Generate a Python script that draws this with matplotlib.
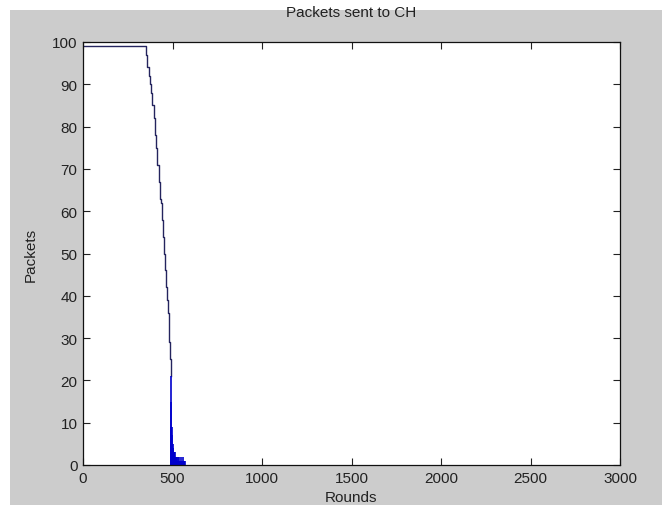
import matplotlib
matplotlib.use("Agg")
import matplotlib.pyplot as plt
from matplotlib.patches import Rectangle

# Per-round packets sent to cluster heads
line_rounds = [0, 345, 352, 360, 366, 372, 380, 388, 395, 402, 408, 415, 422,
               428, 434, 440, 446, 452, 458, 463, 468, 473, 478, 482, 486, 490]
line_packets = [99, 99, 97, 94, 92, 90, 88, 85, 82, 78, 75, 71, 67,
                63, 62, 58, 54, 50, 46, 42, 39, 36, 32, 29, 25, 21]

spike_rounds = [490, 492, 494, 496, 498, 500, 502, 504, 506, 508, 510, 512, 514,
                516, 518, 520, 522, 524, 526, 528, 530, 532, 534, 536, 538, 540,
                542, 544, 546, 548, 550, 552, 554, 556, 558, 560, 562, 566, 570]
spike_packets = [21, 15, 9, 9, 7, 5, 4, 4, 3, 3, 3, 2, 3,
                 2, 2, 2, 1, 2, 1, 2, 1, 1, 1, 1, 2, 1,
                 1, 1, 1, 1, 2, 1, 1, 1, 2, 1, 1, 1, 1]

x_ticks = [0, 500, 1000, 1500, 2000, 2500, 3000]
y_ticks = [0, 10, 20, 30, 40, 50, 60, 70, 80, 90, 100]

plt.rcParams['font.family'] = ['Liberation Sans', 'DejaVu Sans']

fig = plt.figure(figsize=(6.62, 5.06), dpi=100, facecolor='white')
fig.patches.append(Rectangle((10 / 662, 0), 1, 1 - 11 / 506,
                             transform=fig.transFigure, facecolor='#cccccc',
                             edgecolor='none', zorder=-10))

ax = fig.add_axes([83 / 662, 40 / 506, 537 / 662, 423 / 506])
ax.set_facecolor('white')

ax.plot(line_rounds, line_packets, color='#24245e', lw=1.0, drawstyle='steps-post')
ax.vlines(spike_rounds, 0, spike_packets, color='#0000cc', lw=1.2)

ax.set_xlim(0, 3000)
ax.set_ylim(0, 100)
ax.set_xticks(x_ticks)
ax.set_yticks(y_ticks)
ax.tick_params(direction='in', length=5, width=0.8, top=True, right=True,
               labelsize=11, colors='#222222', labelcolor='#222222', pad=4)
for s in ax.spines.values():
    s.set_color('#111111')
    s.set_linewidth(0.9)

ax.set_title('Packets sent to CH', fontsize=11, color='#222222', pad=19)
ax.set_xlabel('Rounds', fontsize=11, color='#222222', labelpad=4)
ax.set_ylabel('Packets', fontsize=11, color='#222222', labelpad=10)

fig.savefig('out.png', dpi=100, facecolor=fig.get_facecolor())
